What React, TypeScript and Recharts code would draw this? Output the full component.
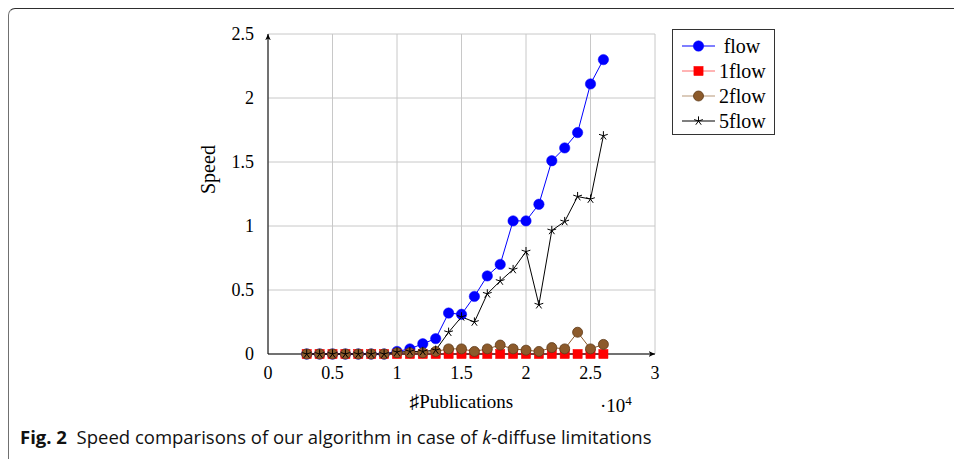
import React from "react"
import { LineChart, Line, XAxis, YAxis, CartesianGrid } from "recharts"

// number of publications on the x axis (drawn in units of 10^4)
const publications = [
  3000, 4000, 5000, 6000, 7000, 8000, 9000, 10000, 11000, 12000, 13000, 14000,
  15000, 16000, 17000, 18000, 19000, 20000, 21000, 22000, 23000, 24000, 25000, 26000,
]
const flow = [
  0, 0, 0, 0, 0, 0, 0, 0.02, 0.04, 0.08, 0.12, 0.32,
  0.31, 0.45, 0.61, 0.7, 1.04, 1.04, 1.17, 1.51, 1.61, 1.73, 2.11, 2.3,
]
const flow1 = [
  0, 0, 0, 0, 0, 0, 0, 0, 0, 0, 0, 0,
  0, 0, 0, 0, 0, 0, 0, 0, 0, 0, 0, 0,
]
const flow2 = [
  0, 0, 0, 0, 0, 0, 0, 0.01, 0.01, 0.01, 0.02, 0.04,
  0.04, 0.02, 0.04, 0.07, 0.04, 0.03, 0.02, 0.05, 0.04, 0.17, 0.04, 0.075,
]
const flow5 = [
  0, 0, 0, 0, 0, 0, 0, 0.015, 0.02, 0.02, 0.03, 0.17,
  0.29, 0.25, 0.47, 0.57, 0.66, 0.8, 0.385, 0.965, 1.035, 1.23, 1.21, 1.705,
]
const xTicks = [0, 5000, 10000, 15000, 20000, 25000, 30000]
const yTicks = [0, 0.5, 1, 1.5, 2, 2.5]

const data = publications.map((p, i) => ({
  p,
  flow: flow[i],
  flow1: flow1[i],
  flow2: flow2[i],
  flow5: flow5[i],
}))

const BLUE = "#0000ff"
const RED = "#ff0000"
const BROWN = "#8c5a2b"
const BLACK = "#000000"
const SERIF = "'Liberation Serif', 'DejaVu Serif', serif"

type Mark = "circle" | "square" | "bcircle" | "star"

function marker(kind: Mark, cx: number, cy: number, key?: string | number) {
  if (kind === "circle")
    return <circle key={key} cx={cx} cy={cy} r={5.2} fill={BLUE} stroke={BLUE} strokeWidth={0.5} />
  if (kind === "square")
    return <rect key={key} x={cx - 4.6} y={cy - 4.6} width={9.2} height={9.2} fill={RED} stroke={RED} strokeWidth={0.5} />
  if (kind === "bcircle")
    return <circle key={key} cx={cx} cy={cy} r={5} fill={BROWN} stroke="#5e3a18" strokeWidth={0.8} />
  // five-armed star
  const arms = [0, 1, 2, 3, 4].map((k) => {
    const a = -Math.PI / 2 + (k * 2 * Math.PI) / 5
    return `M${cx},${cy}L${cx + 4.6 * Math.cos(a)},${cy + 4.6 * Math.sin(a)}`
  })
  return <path key={key} d={arms.join("")} stroke={BLACK} strokeWidth={1} fill="none" />
}

const dot = (kind: Mark) => (props: any) => {
  const { cx, cy, index } = props
  if (cx == null || cy == null) return <g key={index} />
  return marker(kind, cx, cy, index)
}

const entries: { name: string; line: string; mark: Mark }[] = [
  { name: "flow", line: BLUE, mark: "circle" },
  { name: "1flow", line: "#ff6a6a", mark: "square" },
  { name: "2flow", line: "#b89878", mark: "bcircle" },
  { name: "5flow", line: BLACK, mark: "star" },
]

function LegendBox() {
  return (
    <div
      style={{
        position: "absolute",
        left: 672,
        top: 29,
        width: 103,
        height: 106,
        border: "1px solid #333",
        background: "#fff",
        boxSizing: "border-box",
        fontFamily: SERIF,
        fontSize: 20,
      }}
    >
      {entries.map((e, i) => (
        <div key={e.name} style={{ position: "absolute", left: 0, top: 4 + i * 25, height: 24, width: 102 }}>
          <svg width={50} height={24} style={{ position: "absolute", left: 0, top: 0 }}>
            <line x1={9} y1={12} x2={42} y2={12} stroke={e.line} strokeWidth={1.2} />
            {marker(e.mark, 25.5, 12)}
          </svg>
          <span
            style={{
              position: "absolute",
              left: 46,
              width: 46,
              textAlign: "center",
              top: 0,
              lineHeight: "24px",
            }}
          >
            {e.name}
          </span>
        </div>
      ))}
    </div>
  )
}

export default function App() {
  return (
    <div style={{ position: "absolute", left: 0, top: 0, width: 954, height: 459, background: "#fff" }}>
      <div
        style={{
          position: "absolute",
          left: 8,
          top: 8,
          width: 946,
          height: 451,
          borderTop: "1.5px solid #2e2e2e",
          borderLeft: "1.5px solid #707070",
          borderTopLeftRadius: 7,
          boxSizing: "border-box",
        }}
      />
      <div style={{ position: "absolute", left: 0, top: 0 }}>
        <LineChart
          width={954}
          height={459}
          data={data}
          margin={{ left: 208, right: 299, top: 34, bottom: 65 }}
        >
          <defs>
            <marker id="arrowEnd" viewBox="0 0 10 10" refX="9" refY="5" markerWidth="7" markerHeight="7" orient="auto">
              <path d="M0,1 L9,5 L0,9 L2.5,5 Z" fill="#000" />
            </marker>
            <marker id="arrowStart" viewBox="0 0 10 10" refX="9" refY="5" markerWidth="7" markerHeight="7" orient="auto-start-reverse">
              <path d="M0,1 L9,5 L0,9 L2.5,5 Z" fill="#000" />
            </marker>
          </defs>
          <CartesianGrid stroke="#c8c8c8" strokeWidth={1} />
          <XAxis
            type="number"
            dataKey="p"
            domain={[0, 30000]}
            ticks={xTicks}
            height={40}
            tickFormatter={(v: number) => String(v / 10000)}
            tick={{ fill: "#000", fontSize: 18, fontFamily: SERIF }}
            tickLine={false}
            tickMargin={6}
            axisLine={{ stroke: "#000", strokeWidth: 1, markerEnd: "url(#arrowEnd)" } as any}
            label={{ value: "♯Publications", position: "insideBottom", offset: -14, fill: "#000", fontSize: 19, fontFamily: SERIF }}
          />
          <YAxis
            type="number"
            domain={[0, 2.5]}
            ticks={yTicks}
            width={60}
            tick={{ fill: "#000", fontSize: 18, fontFamily: SERIF }}
            tickLine={false}
            tickMargin={8}
            axisLine={{ stroke: "#000", strokeWidth: 1, markerStart: "url(#arrowStart)" } as any}
            label={{ value: "Speed", angle: -90, position: "insideLeft", offset: 0, fill: "#000", fontSize: 20, fontFamily: SERIF }}
          />
          <Line dataKey="flow" stroke={BLUE} strokeWidth={1} dot={dot("circle")} isAnimationActive={false} />
          <Line dataKey="flow1" stroke={RED} strokeWidth={1} dot={dot("square")} isAnimationActive={false} />
          <Line dataKey="flow2" stroke={BROWN} strokeWidth={1} dot={dot("bcircle")} isAnimationActive={false} />
          <Line dataKey="flow5" stroke={BLACK} strokeWidth={1} dot={dot("star")} isAnimationActive={false} />
        </LineChart>
      </div>
      <LegendBox />
      <div style={{ position: "absolute", left: 600, top: 393, fontFamily: SERIF, fontSize: 19, color: "#000" }}>
        ·10<sup style={{ fontSize: 13 }}>4</sup>
      </div>
      <div
        style={{
          position: "absolute",
          left: 20,
          top: 426,
          fontFamily: "'Open Sans', 'Noto Sans', sans-serif",
          fontSize: 18.5,
          lineHeight: "22px",
          color: "#111",
          whiteSpace: "nowrap",
        }}
      >
        <b>Fig. 2</b>&nbsp; Speed comparisons of our algorithm in case of <i>k</i>-diffuse limitations
      </div>
    </div>
  )
}
